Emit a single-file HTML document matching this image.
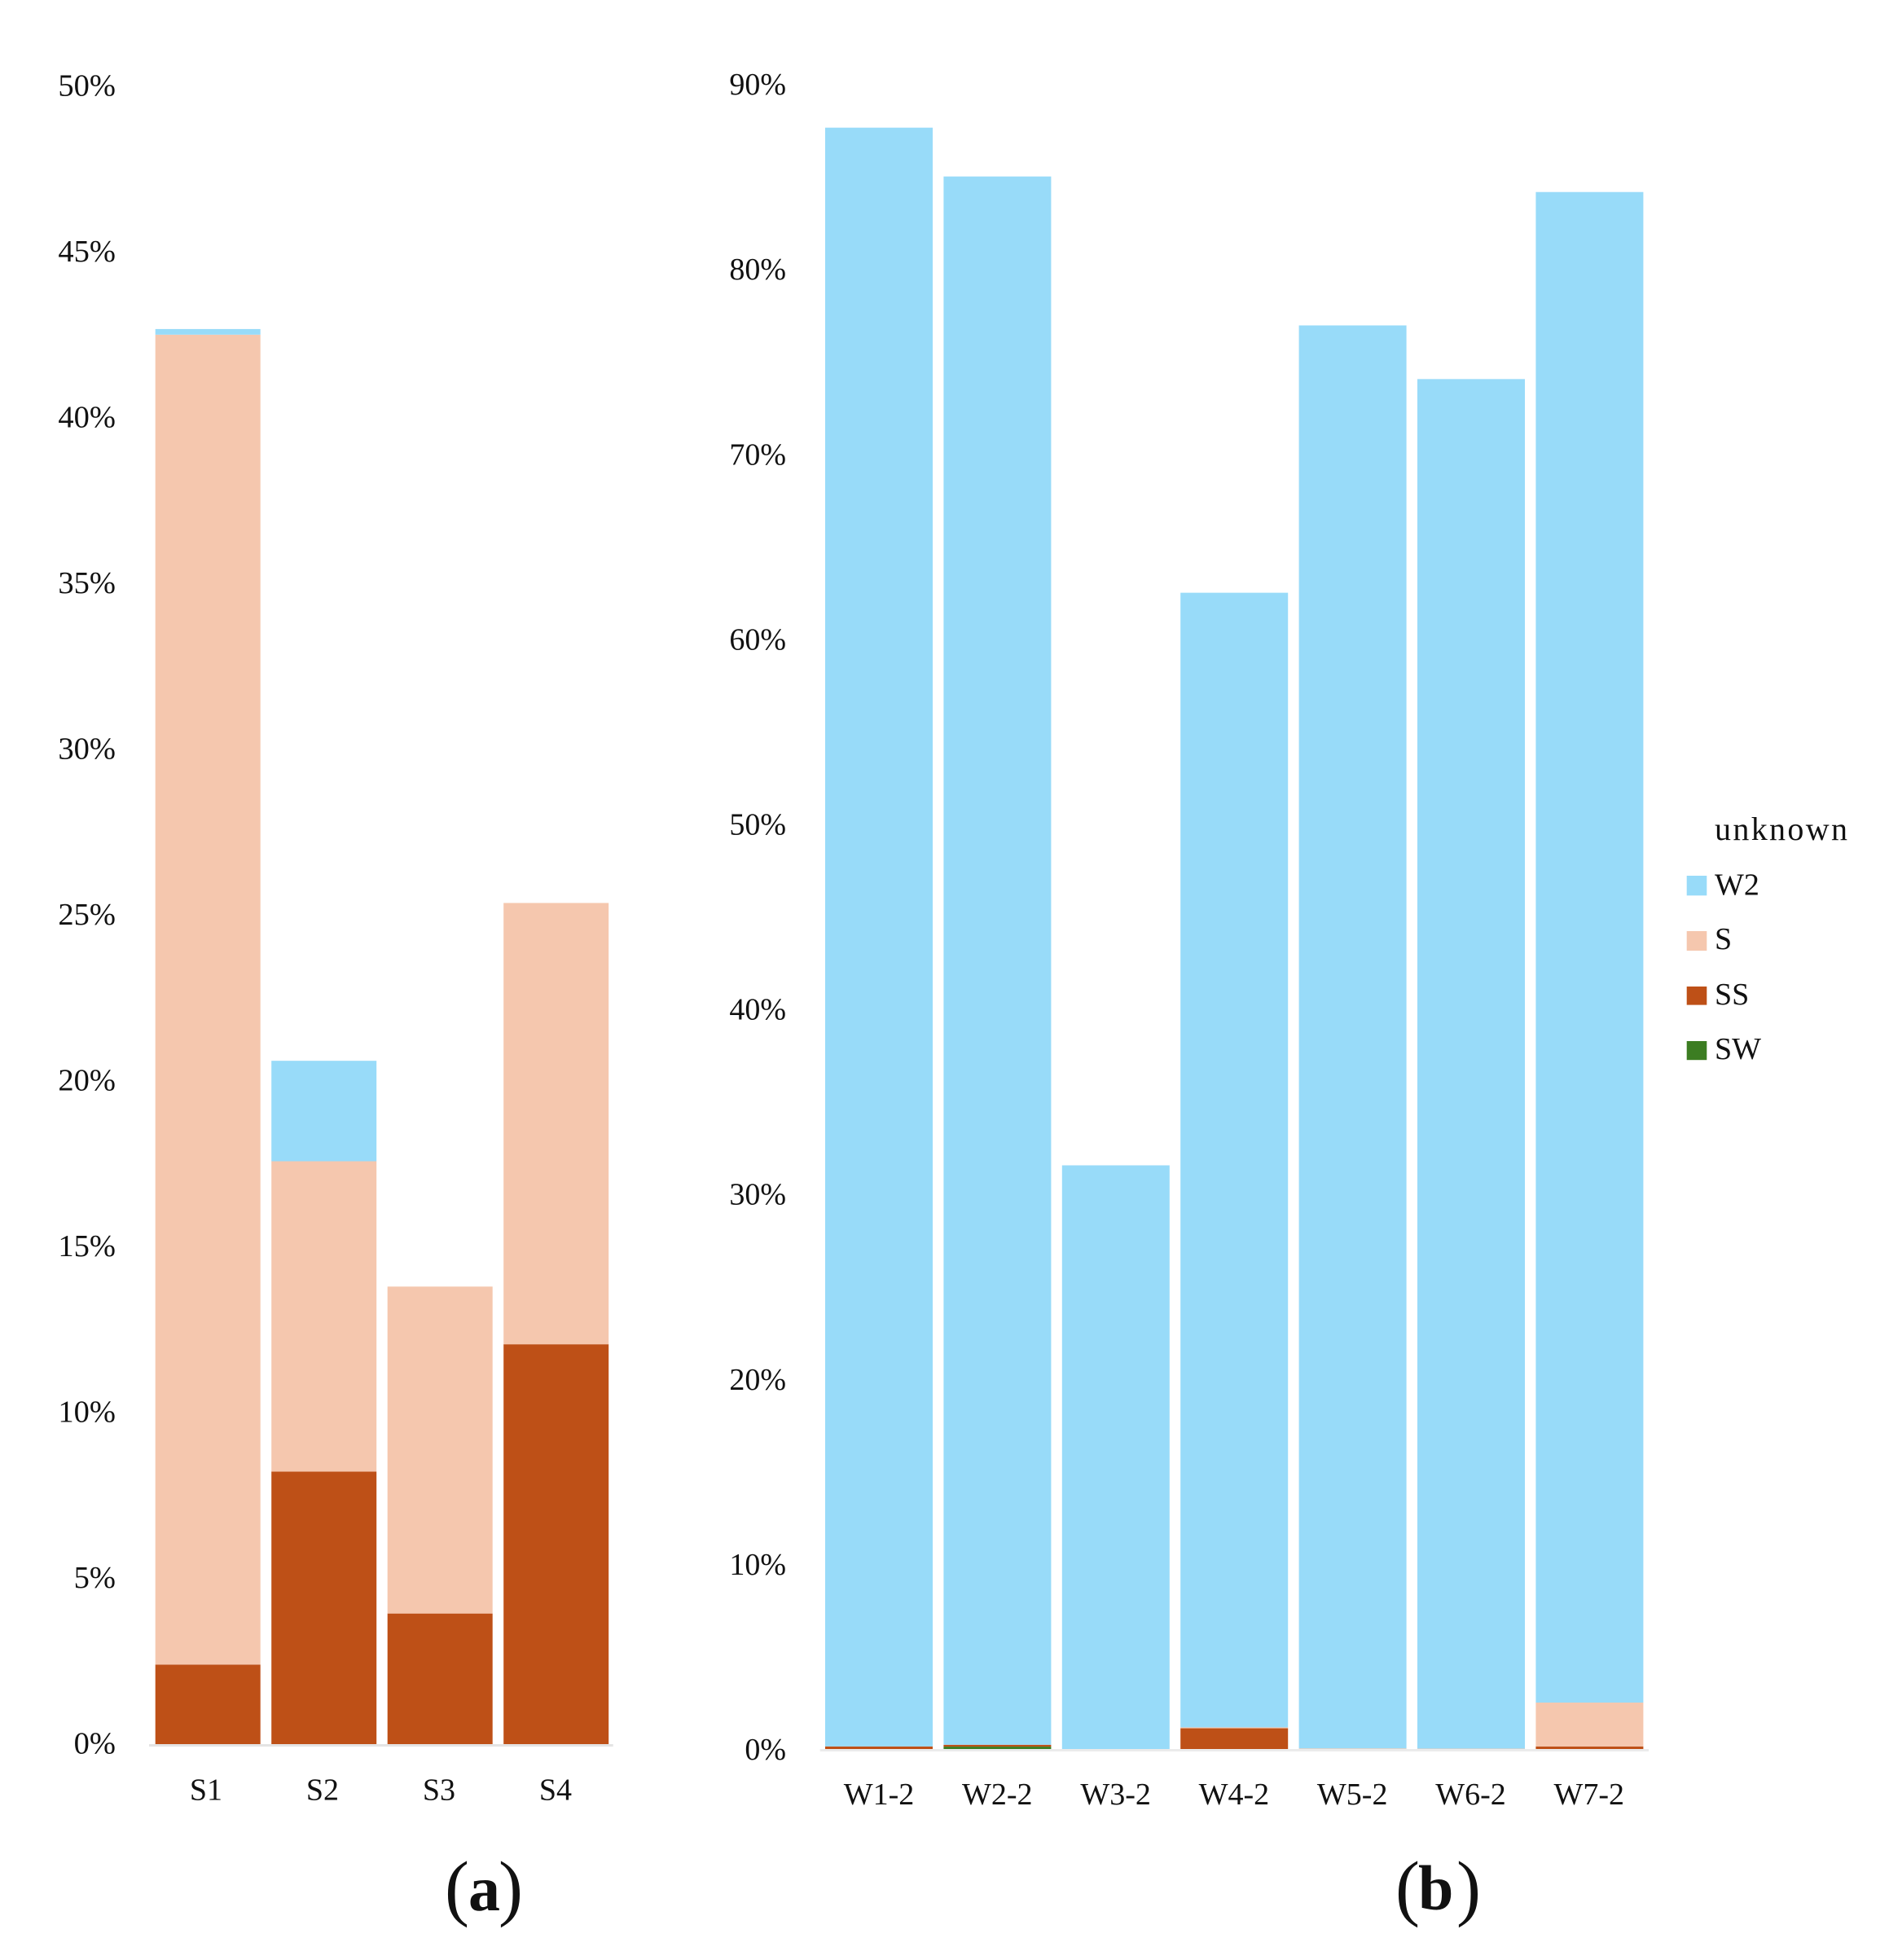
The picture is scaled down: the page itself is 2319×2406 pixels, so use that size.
<!DOCTYPE html>
<html lang="en">
<head>
<meta charset="utf-8">
<title>Stacked bar charts (a) and (b)</title>
<style>
  html, body { margin: 0; padding: 0; background: #fff; }
  #figure { display: block; width: 2319px; height: 2406px; }
  text { font-family: "Liberation Serif", serif; fill: #111; }
</style>
</head>
<body>
<svg id="figure" xmlns="http://www.w3.org/2000/svg" width="2319" height="2406" viewBox="0 0 2319 2406">
  <g id="panel-a"></g>
  <g id="panel-b"></g>

  <g>
    <text x="2105" y="1031" font-size="40" textLength="163" lengthAdjust="spacing">unknown</text>
    <g>
      <rect x="2070.7" y="1075" width="24.6" height="24.3" fill="#98DBF9"></rect>
      <text x="2105" y="1098.5" font-size="38">W2</text>
    </g>
    <g>
      <rect x="2070.7" y="1143" width="24.6" height="24" fill="#F5C7AE"></rect>
      <text x="2105" y="1165" font-size="38">S</text>
    </g>
    <g>
      <rect x="2070.7" y="1211" width="24.6" height="22.6" fill="#BE5017"></rect>
      <text x="2105" y="1233" font-size="38">SS</text>
    </g>
    <g>
      <rect x="2070.7" y="1278" width="24.6" height="23.2" fill="#3C7D22"></rect>
      <text x="2105" y="1300" font-size="38">SW</text>
    </g>
  </g>

  <text><tspan x="546" y="2347" font-size="90">(</tspan><tspan x="575" y="2345" font-size="78" font-weight="bold">a</tspan><tspan x="612" y="2347" font-size="90">)</tspan></text>
  <text><tspan x="1713" y="2347" font-size="90">(</tspan><tspan x="1741" y="2344" font-size="78" font-weight="bold">b</tspan><tspan x="1788" y="2347" font-size="90">)</tspan></text>
</svg>

<script>
// ---- shared series colours ----
const colorSS = "#BE5017";
const colorS = "#F5C7AE";
const colorW2 = "#98DBF9";
const colorSW = "#3C7D22";

// ---- panel (a) data (percent) ----
const categoriesA = ["S1", "S2", "S3", "S4"];
const ticksA = [0, 5, 10, 15, 20, 25, 30, 35, 40, 45, 50];
const seriesA_SS = [2.4, 8.22, 3.94, 12.06];
const seriesA_S = [40.11, 9.36, 9.86, 13.31];
const seriesA_W2 = [0.17, 3.03, 0, 0];

// ---- panel (b) data (percent) ----
const categoriesB = ["W1-2", "W2-2", "W3-2", "W4-2", "W5-2", "W6-2", "W7-2"];
const ticksB = [0, 10, 20, 30, 40, 50, 60, 70, 80, 90];
const seriesB_SW = [0, 0.13, 0, 0, 0, 0, 0];
const seriesB_SS = [0.14, 0.1, 0, 1.12, 0, 0, 0.14];
const seriesB_S = [0, 0, 0, 0.05, 0.03, 0.02, 2.37];
const seriesB_W2 = [87.5, 84.77, 31.55, 61.33, 76.92, 74.03, 81.65];

const SVG_NS = "http://www.w3.org/2000/svg";

function drawPanel(cfg) {
  const root = document.getElementById(cfg.rootId);
  const yScale = v => cfg.y0 - v * cfg.pxPerUnit;
  const xLeft = i => cfg.x0 + i * cfg.step;

  // stacked bars
  cfg.categories.forEach((cat, i) => {
    let cum = 0;
    cfg.series.forEach(s => {
      const val = s.values[i];
      if (val > 0) {
        const rect = document.createElementNS(SVG_NS, "rect");
        rect.setAttribute("x", xLeft(i));
        rect.setAttribute("y", yScale(cum + val));
        rect.setAttribute("width", cfg.barWidth);
        rect.setAttribute("height", yScale(cum) - yScale(cum + val));
        rect.setAttribute("fill", s.color);
        
        
        root.appendChild(rect);
      }
      cum += val;
    });
  });

  // x axis line
  const axis = document.createElementNS(SVG_NS, "rect");
  axis.setAttribute("x", cfg.axisX1);
  axis.setAttribute("y", cfg.y0);
  axis.setAttribute("width", cfg.axisX2 - cfg.axisX1);
  axis.setAttribute("height", 3);
  axis.setAttribute("fill", cfg.axisColor);
  
  
  root.appendChild(axis);

  // y tick labels
  cfg.ticks.forEach(t => {
    const label = document.createElementNS(SVG_NS, "text");
    label.setAttribute("x", cfg.tickRight);
    label.setAttribute("y", yScale(t) + cfg.tickDy);
    label.setAttribute("font-size", cfg.tickSize);
    label.setAttribute("text-anchor", "end");
    
    
    label.textContent = t + "%";
    root.appendChild(label);
  });

  // x category labels
  cfg.categories.forEach((cat, i) => {
    const label = document.createElementNS(SVG_NS, "text");
    label.setAttribute("x", cfg.labelX0 + i * cfg.labelStep);
    label.setAttribute("y", cfg.labelY);
    label.setAttribute("font-size", "38");
    label.setAttribute("text-anchor", "middle");
    
    
    label.textContent = cat;
    root.appendChild(label);
  });
}

drawPanel({
  rootId: "panel-a",
  categories: categoriesA,
  ticks: ticksA,
  series: [
    { key: "ss", color: colorSS, values: seriesA_SS },
    { key: "s", color: colorS, values: seriesA_S },
    { key: "w2", color: colorW2, values: seriesA_W2 }
  ],
  y0: 2141, pxPerUnit: 40.7,
  x0: 190.7, step: 142.5, barWidth: 129,
  axisX1: 183, axisX2: 752.7, axisColor: "#E4E4E4",
  tickRight: 142, tickDy: 11.5, tickSize: 38.5,
  labelX0: 253, labelStep: 143, labelY: 2209.5
});

drawPanel({
  rootId: "panel-b",
  categories: categoriesB,
  ticks: ticksB,
  series: [
    { key: "sw", color: colorSW, values: seriesB_SW },
    { key: "ss", color: colorSS, values: seriesB_SS },
    { key: "s", color: colorS, values: seriesB_S },
    { key: "w2", color: colorW2, values: seriesB_W2 }
  ],
  y0: 2147, pxPerUnit: 22.71,
  x0: 1013, step: 145.4, barWidth: 132,
  axisX1: 1006.7, axisX2: 2024, axisColor: "#EBEBEB",
  tickRight: 965, tickDy: 13, tickSize: 38,
  labelX0: 1079, labelStep: 145.3, labelY: 2215
});
</script>
</body>
</html>
